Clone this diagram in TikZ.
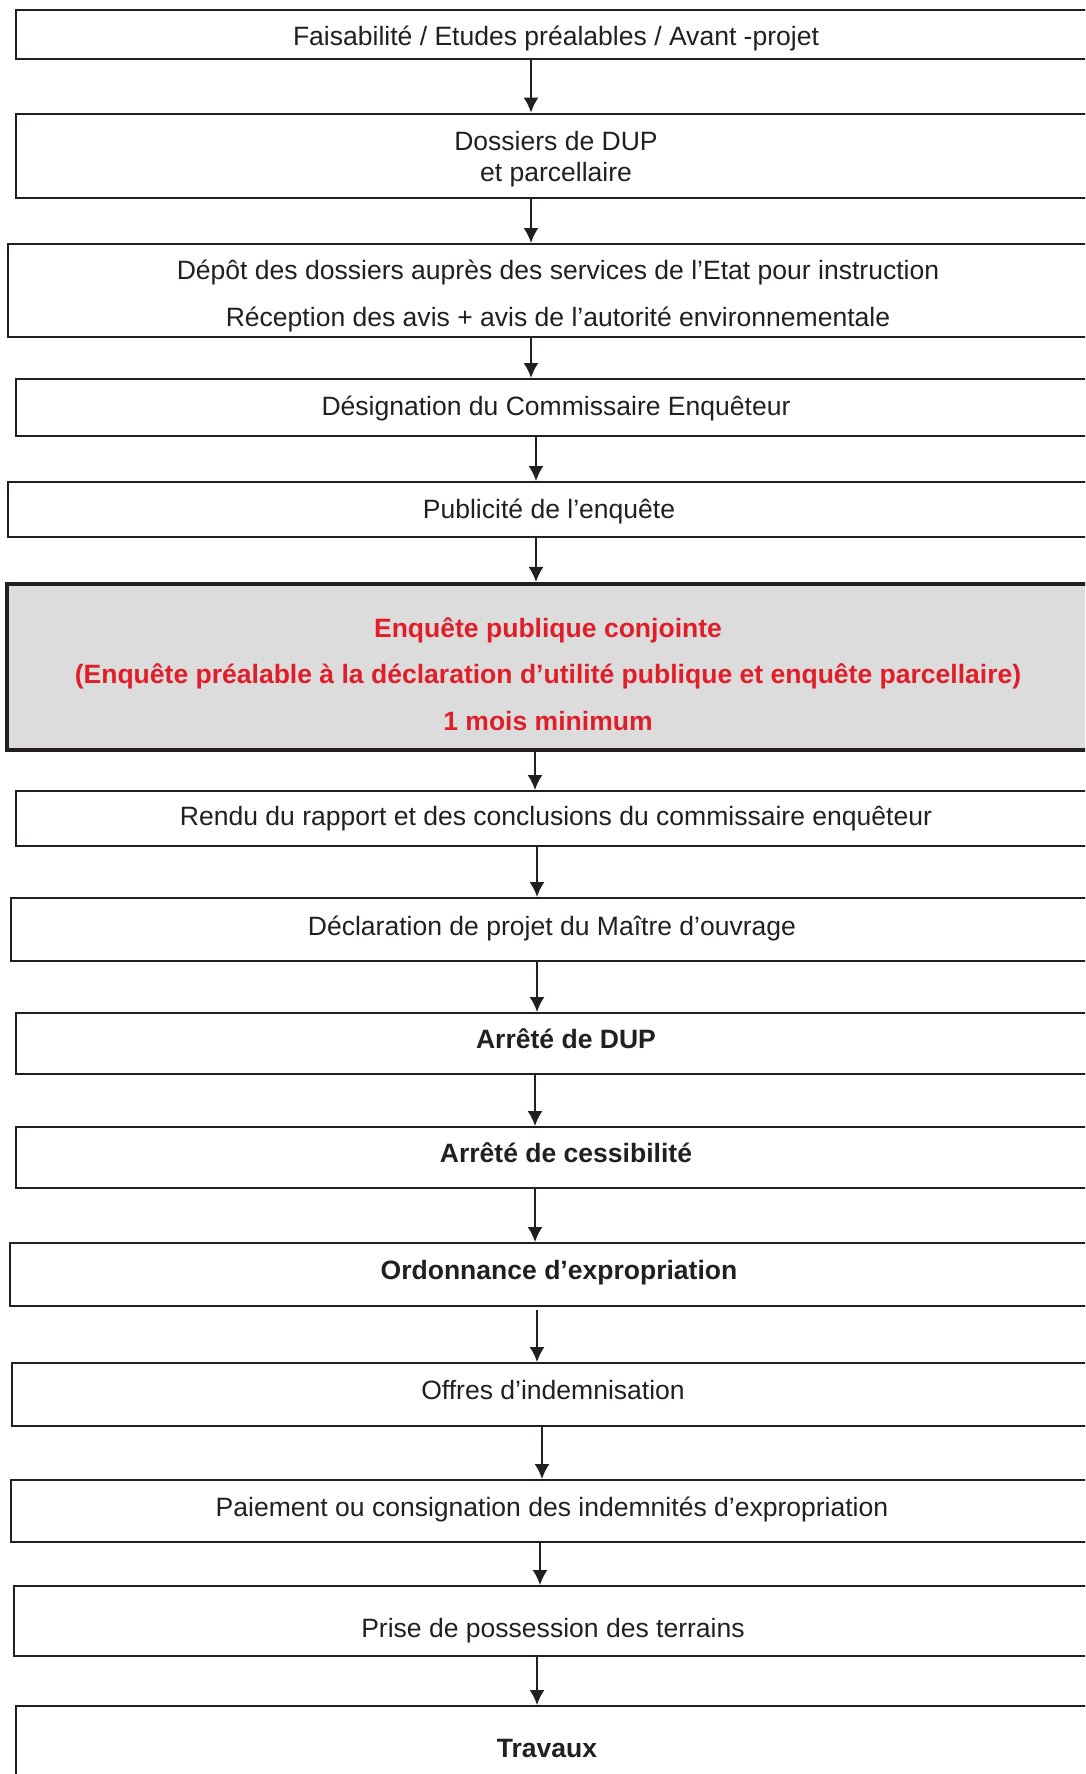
\documentclass[tikz,border=0pt]{standalone}
\usepackage{fontspec}
\setmainfont{Liberation Sans}
\usetikzlibrary{arrows.meta,fit}

\definecolor{framecol}{RGB}{35,31,32}
\definecolor{alertred}{RGB}{224,30,42}
\definecolor{panelgrey}{RGB}{220,220,220}

\begin{document}
\begin{tikzpicture}[x=0.02cm,y=-0.02cm,
        stagebox/.style={draw=framecol, line width=1.1pt, inner sep=0pt, fill=white},
        mainbox/.style={stagebox, line width=2.3pt, fill=panelgrey},
        label/.style={text=framecol, font=\fontsize{15.1}{17.6}\selectfont, align=center, inner sep=0pt},
        boldlabel/.style={label, font=\fontsize{15.1}{17.6}\selectfont\bfseries},
        redlabel/.style={boldlabel, text=alertred},
        flow/.style={draw=framecol, line width=1.1pt, -{Latex[length=0.3cm,width=0.3cm]}}]
        \useasboundingbox (0,0) rectangle (1085,1774);
        \clip (0,0) rectangle (1085,1774);

        % boxes (they run off the right edge)
        \node[stagebox, fit={(16,10) (1110,59)}] (faisab) {};
        \node[stagebox, line width=1.6pt, fit={(16,114) (1110,198)}] (dossiers) {};
        \node[stagebox, fit={(8,244) (1110,337)}] (depot) {};
        \node[stagebox, fit={(16,379) (1110,436)}] (designation) {};
        \node[stagebox, fit={(8,482) (1110,537)}] (publicite) {};
        \node[mainbox, fit={(7,584) (1110,750)}] (enquete) {};
        \node[stagebox, fit={(16,791) (1110,846)}] (rendu) {};
        \node[stagebox, fit={(11,898) (1110,961)}] (declaration) {};
        \node[stagebox, fit={(16,1013) (1110,1074)}] (arretedup) {};
        \node[stagebox, fit={(16,1127) (1110,1188)}] (cessib) {};
        \node[stagebox, fit={(10,1243) (1110,1306)}] (ordonnance) {};
        \node[stagebox, fit={(12,1363) (1110,1426)}] (offres) {};
        \node[stagebox, fit={(11,1480) (1110,1542)}] (paiement) {};
        \node[stagebox, fit={(14,1586) (1110,1656)}] (prise) {};
        \node[stagebox, fit={(16,1706) (1110,1820)}] (travaux) {};

        % texts
        \node[label] (faisabT) at (556,38) {Faisabilité / Etudes préalables / Avant -projet};
        \node[label] (dossiersT) at (556,159) {Dossiers de DUP\\et parcellaire};
        \node[label] (depotT) at (558,296) {Dépôt des dossiers auprès des services de l’Etat pour instruction\\[9pt]Réception des avis + avis de l’autorité environnementale};
        \node[label] (designationT) at (556,408) {Désignation du Commissaire Enquêteur};
        \node[label] (publiciteT) at (549,511) {Publicité de l’enquête};
        \node[redlabel] (enqueteT) at (548,674) {Enquête publique conjointe\\[9pt](Enquête préalable à la déclaration d’utilité publique et enquête parcellaire)\\[9pt]1 mois minimum};
        \node[label] (renduT) at (556,819) {Rendu du rapport et des conclusions du commissaire enquêteur};
        \node[label] (declarationT) at (552,928) {Déclaration de projet du Maître d’ouvrage};
        \node[boldlabel] (arretedupT) at (566,1039) {Arrêté de DUP};
        \node[boldlabel] (cessibT) at (566,1153) {Arrêté de cessibilité};
        \node[boldlabel] (ordonnanceT) at (559,1273) {Ordonnance d’expropriation};
        \node[label] (offresT) at (553,1390) {Offres d’indemnisation};
        \node[label] (paiementT) at (552,1509) {Paiement ou consignation des indemnités d’expropriation};
        \node[label] (priseT) at (553,1631) {Prise de possession des terrains};
        \node[boldlabel] (travauxT) at (547,1748) {Travaux};

        % arrows
        \draw[flow] (faisab.south -| 531,0) -- (dossiers.north -| 531,0);
        \draw[flow] (dossiers.south -| 531,0) -- (depot.north -| 531,0);
        \draw[flow] (depot.south -| 531,0) -- (designation.north -| 531,0);
        \draw[flow] (designation.south -| 536,0) -- (publicite.north -| 536,0);
        \draw[flow] (publicite.south -| 536,0) -- (enquete.north -| 536,0);
        \draw[flow] (enquete.south -| 535,0) -- (rendu.north -| 535,0);
        \draw[flow] (rendu.south -| 537,0) -- (declaration.north -| 537,0);
        \draw[flow] (declaration.south -| 537,0) -- (arretedup.north -| 537,0);
        \draw[flow] (arretedup.south -| 535,0) -- (cessib.north -| 535,0);
        \draw[flow] (cessib.south -| 535,0) -- (ordonnance.north -| 535,0);
        \draw[flow] ([yshift=-0.06cm]ordonnance.south -| 537,0) -- (offres.north -| 537,0);
        \draw[flow] (offres.south -| 542,0) -- (paiement.north -| 542,0);
        \draw[flow] (paiement.south -| 540,0) -- (prise.north -| 540,0);
        \draw[flow] (prise.south -| 537,0) -- (travaux.north -| 537,0);
\end{tikzpicture}
\end{document}
